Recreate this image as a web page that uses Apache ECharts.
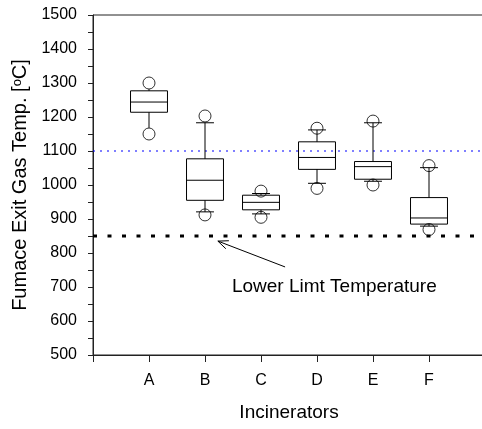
<!DOCTYPE html>
<html style="height: 100%">
<head>
  <meta charset="utf-8">
  <script src="https://cdn.jsdelivr.net/npm/echarts@6/dist/echarts.min.js"></script>
</head>
<body style="height: 100%; margin: 0; background: #fff">
<div id="chart" style="width: 482px; height: 429px"></div>
<script>
  // chart data
  var categories = ['A', 'B', 'C', 'D', 'E', 'F'];
  var q1 = [1214, 955, 927, 1046, 1017, 885];
  var median = [1244, 1014, 949, 1081, 1054, 903];
  var q3 = [1277, 1077, 970, 1127, 1069, 963];
  var whiskerLow = [1168, 921, 915, 1005, 1011, 879];
  var whiskerHigh = [1282, 1183, 975, 1162, 1183, 1051];
  var hasCaps = [false, true, true, true, true, true];
  var outLow = [1150, 912, 905, 990, 1000, 869];
  var outHigh = [1300, 1203, 982, 1167, 1188, 1057];
  var upperLine = 1100;
  var lowerLimit = 850;
  var noteText = 'Lower Limt Temperature';
  var noteArrow = [3.43, 759, 2.23, 835];
  var notePos = [2.48, 700];

  var font = 'Arial, "Liberation Sans", sans-serif';

  var boxData = [];
  var outData = [];
  for (var i = 0; i < categories.length; i++) {
    boxData.push([i + 1, whiskerLow[i], q1[i], median[i], q3[i], whiskerHigh[i], hasCaps[i] ? 1 : 0]);
    outData.push([i + 1, outLow[i]]);
    outData.push([i + 1, outHigh[i]]);
  }

  function renderBox(params, api) {
    var x = api.value(0);
    var unit = api.size([1, 0])[0];
    var half = unit * 0.33;
    var capHalf = unit * 0.16;
    var lo = api.coord([x, api.value(1)]);
    var b = api.coord([x, api.value(2)]);
    var m = api.coord([x, api.value(3)]);
    var t = api.coord([x, api.value(4)]);
    var hi = api.coord([x, api.value(5)]);
    var style = {stroke: '#000', fill: null, lineWidth: 1};
    var kids = [
      {type: 'rect', shape: {x: b[0] - half, y: t[1], width: half * 2, height: b[1] - t[1]}, style: style},
      {type: 'line', shape: {x1: m[0] - half, y1: m[1], x2: m[0] + half, y2: m[1]}, style: style},
      {type: 'line', shape: {x1: lo[0], y1: lo[1], x2: b[0], y2: b[1]}, style: style},
      {type: 'line', shape: {x1: hi[0], y1: hi[1], x2: t[0], y2: t[1]}, style: style}
    ];
    if (api.value(6)) {
      kids.push({type: 'line', shape: {x1: lo[0] - capHalf, y1: lo[1], x2: lo[0] + capHalf, y2: lo[1]}, style: style});
      kids.push({type: 'line', shape: {x1: hi[0] - capHalf, y1: hi[1], x2: hi[0] + capHalf, y2: hi[1]}, style: style});
    }
    return {type: 'group', children: kids};
  }

  function renderNote(params, api) {
    var s = api.coord([api.value(0), api.value(1)]);
    var e = api.coord([api.value(2), api.value(3)]);
    var p = api.coord(notePos);
    var ang = Math.atan2(s[1] - e[1], s[0] - e[0]);
    var len = 11, spread = 0.4;
    var style = {stroke: '#000', fill: null, lineWidth: 1};
    return {
      type: 'group',
      children: [
        {type: 'line', shape: {x1: s[0], y1: s[1], x2: e[0], y2: e[1]}, style: style},
        {type: 'line', shape: {x1: e[0], y1: e[1], x2: e[0] + len * Math.cos(ang + spread), y2: e[1] + len * Math.sin(ang + spread)}, style: style},
        {type: 'line', shape: {x1: e[0], y1: e[1], x2: e[0] + len * Math.cos(ang - spread), y2: e[1] + len * Math.sin(ang - spread)}, style: style},
        {type: 'text', x: p[0], y: p[1], style: {text: noteText, fill: '#000', font: '19px ' + font, align: 'left', verticalAlign: 'middle'}}
      ]
    };
  }

  var myChart = echarts.init(document.getElementById('chart'), null, {renderer: 'canvas'});
  var option = {
    animation: false,
    backgroundColor: '#fff',
    grid: {
      left: 93, top: 15, width: 392, bottom: 74,
      outerBoundsMode: 'none', containLabel: false,
      show: true, borderColor: '#222', borderWidth: 1, backgroundColor: 'transparent'
    },
    xAxis: {
      type: 'value', min: 0, max: 7, interval: 1,
      name: 'Incinerators', nameLocation: 'middle', nameGap: 48,
      nameTextStyle: {fontFamily: font, fontSize: 19, color: '#000'},
      axisLine: {show: true, lineStyle: {color: '#222', width: 1}},
      axisTick: {show: true, inside: false, length: 7, lineStyle: {color: '#222'}},
      axisLabel: {
        margin: 18, fontFamily: font, fontSize: 16, color: '#000',
        formatter: function (v) { return categories[v - 1] || ''; }
      },
      splitLine: {show: false}
    },
    yAxis: {
      type: 'value', min: 500, max: 1500, interval: 100,
      name: 'Fumace Exit Gas Temp. [{sup|o}C]', nameLocation: 'middle', nameGap: 61,
      nameTextStyle: {
        fontFamily: font, fontSize: 20, color: '#000',
        rich: {sup: {fontFamily: font, fontSize: 13, color: '#000', verticalAlign: 'top', lineHeight: 20}}
      },
      axisLine: {show: true, lineStyle: {color: '#222', width: 1}},
      axisTick: {show: true, inside: false, length: 5, lineStyle: {color: '#222'}},
      minorTick: {show: true, splitNumber: 2, length: 5, lineStyle: {color: '#222'}},
      axisLabel: {
        margin: 16, fontFamily: font, fontSize: 16, color: '#000',
        formatter: function (v) { return String(v); }
      },
      splitLine: {show: false}
    },
    series: [
      {
        type: 'custom',
        renderItem: renderBox,
        data: boxData,
        z: 3
      },
      {
        type: 'line',
        data: [[0, upperLine], [7, upperLine]],
        symbol: 'none',
        silent: true,
        z: 2,
        lineStyle: {color: '#0000ff', width: 1.2, type: [2, 5]}
      },
      {
        type: 'line',
        data: [[0, lowerLimit], [7, lowerLimit]],
        symbol: 'none',
        silent: true,
        z: 2,
        lineStyle: {color: '#000', width: 3, type: [4, 10.5]}
      },
      {
        type: 'scatter',
        data: outData,
        symbol: 'circle',
        symbolSize: 12,
        z: 4,
        itemStyle: {color: 'transparent', borderColor: '#000', borderWidth: 1}
      },
      {
        type: 'custom',
        renderItem: renderNote,
        data: [noteArrow],
        z: 5
      }
    ]
  };
  myChart.setOption(option);
</script>
</body>
</html>
